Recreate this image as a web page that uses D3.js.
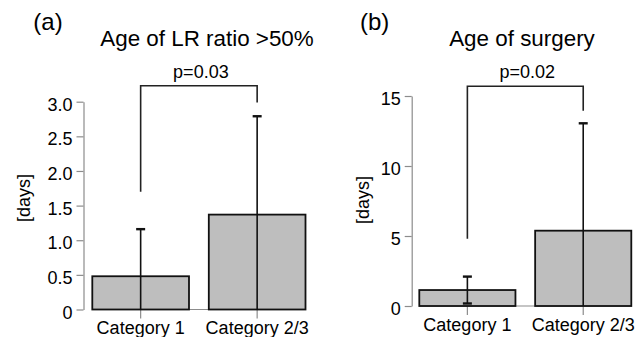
<!DOCTYPE html>
<html>
<head>
<meta charset="utf-8">
<script src="https://cdn.jsdelivr.net/npm/d3@7"></script>
<style>
  body { margin: 0; background: #fff; }
  svg text { font-family: "Liberation Sans", Arial, sans-serif; fill: #000; }
  .axis path, .axis line { stroke: #8c8c8c; stroke-width: 1.2; }
</style>
</head>
<body>
<div id="chart"></div>
<script>
var categories = ["Category 1", "Category 2/3"];

// panel (a) Age of LR ratio >50%
var lrMeans = [0.48, 1.37];
var lrSd = [0.68, 1.42];
var lrTicks = [0, 0.5, 1.0, 1.5, 2.0, 2.5, 3.0];
var lrBracket = [1.70, 2.99, 3.23]; // left leg end, right leg end, top
var lrP = "p=0.03";

// panel (b) Age of surgery
var surgMeans = [1.14, 5.38];
var surgSd = [0.96, 7.67];
var surgTicks = [0, 5, 10, 15];
var surgBracket = [4.8, 13.95, 15.7];
var surgP = "p=0.02";

var W = 638, H = 337;

var svg = d3.select("#chart").append("svg")
    .attr("width", W)
    .attr("height", H);

function mk_panel(o){
    var y = d3.scaleLinear()
        .domain([0, o.ticks[o.ticks.length - 1]])
        .range([o.y0, o.y1]);

    var x = d3.scaleBand()
        .domain(categories)
        .range([o.bx0, o.bx1])
        .paddingInner(0.17)
        .paddingOuter(0);

    var g = svg.append("g");

    // y axis
    var yAxis = d3.axisLeft(y)
        .tickValues(o.ticks)
        .tickSize(7)
        .tickSizeOuter(0)
        .tickPadding(4)
        .tickFormat(o.fmt);

    var ya = g.append("g")
        .attr("class", "axis")
        .attr("transform", "translate(" + o.ax + ",0)")
        .call(yAxis);
    ya.selectAll("text")
        .attr("dy", "0.48em")
        .style("font-size", "18px")
        .style("font-family", "'Liberation Sans', Arial, sans-serif")
        .attr("fill", "#000");

    // baseline under the bars
    g.append("line")
        .attr("x1", o.bx0).attr("x2", o.bx1)
        .attr("y1", y(0)).attr("y2", y(0))
        .attr("stroke", "#8c8c8c")
        .attr("stroke-width", 1.2);

    // x axis (ticks + labels only)
    var xAxis = d3.axisBottom(x)
        .tickSize(9)
        .tickSizeOuter(0)
        .tickPadding(3);
    var xa = g.append("g")
        .attr("class", "axis")
        .attr("transform", "translate(0," + y(0) + ")")
        .call(xAxis);
    xa.select(".domain").remove();
    xa.selectAll("text")
        .style("font-size", "18px")
        .style("font-family", "'Liberation Sans', Arial, sans-serif")
        .attr("fill", "#000");

    // bars
    g.selectAll("rect.bar")
        .data(o.means)
        .enter().append("rect")
        .attr("class", "bar")
        .attr("x", function(d, i){ return x(categories[i]); })
        .attr("width", x.bandwidth())
        .attr("y", function(d){ return y(d); })
        .attr("height", function(d){ return y(0) - y(d); })
        .attr("fill", "#bebebe")
        .attr("stroke", "#111")
        .attr("stroke-width", 1.8);

    // error bars
    var eb = g.selectAll("g.err")
        .data(o.means.map(function(m, i){ return {m: m, s: o.sd[i], c: categories[i]}; }))
        .enter().append("g")
        .attr("class", "err")
        .attr("transform", function(d){ return "translate(" + (x(d.c) + x.bandwidth() / 2) + ",0)"; });

    eb.append("line")
        .attr("y1", function(d){ return y(Math.max(0, d.m - d.s)); })
        .attr("y2", function(d){ return y(d.m + d.s); })
        .attr("stroke", "#111")
        .attr("stroke-width", 1.6);

    eb.append("line")
        .attr("x1", -4.5).attr("x2", 4.5)
        .attr("y1", function(d){ return y(d.m + d.s); })
        .attr("y2", function(d){ return y(d.m + d.s); })
        .attr("stroke", "#111")
        .attr("stroke-width", 2.4);

    eb.filter(function(d){ return d.m - d.s > 0; })
        .append("line")
        .attr("x1", -4.5).attr("x2", 4.5)
        .attr("y1", function(d){ return y(d.m - d.s); })
        .attr("y2", function(d){ return y(d.m - d.s); })
        .attr("stroke", "#111")
        .attr("stroke-width", 2.4);

    // significance bracket
    var cx0 = x(categories[0]) + x.bandwidth() / 2,
        cx1 = x(categories[1]) + x.bandwidth() / 2;
    var bracket = d3.line();
    g.append("path")
        .attr("d", bracket([
            [cx0, y(o.bracket[0])],
            [cx0, y(o.bracket[2])],
            [cx1, y(o.bracket[2])],
            [cx1, y(o.bracket[1])]
        ]))
        .attr("fill", "none")
        .attr("stroke", "#222")
        .attr("stroke-width", 1.6);

    g.append("text")
        .attr("x", (cx0 + cx1) / 2 + 2)
        .attr("y", y(o.bracket[2]) - 8)
        .attr("text-anchor", "middle")
        .style("font-size", "18px")
        .text(o.p);

    // y label
    g.append("text")
        .attr("transform", "translate(" + o.ylx + "," + o.yly + ") rotate(-90)")
        .attr("text-anchor", "middle")
        .style("font-size", "18px")
        .text("[days]");

    // title and panel letter
    g.append("text")
        .attr("x", o.tx).attr("y", 46)
        .attr("text-anchor", "middle")
        .style("font-size", "22.4px")
        .text(o.title);

    g.append("text")
        .attr("x", o.lx).attr("y", 30)
        .attr("text-anchor", "middle")
        .style("font-size", "24px")
        .text(o.letter);
}

mk_panel({
    means: lrMeans, sd: lrSd, ticks: lrTicks, bracket: lrBracket, p: lrP,
    fmt: function(d){ return d === 0 ? "0" : d.toFixed(1); },
    y0: 309.5, y1: 101.7, bx0: 92.3, bx1: 305.5, ax: 83.5,
    ylx: 30, yly: 198, tx: 207, lx: 48,
    title: "Age of LR ratio >50%", letter: "(a)"
});

mk_panel({
    means: surgMeans, sd: surgSd, ticks: surgTicks, bracket: surgBracket, p: surgP,
    fmt: d3.format("d"),
    y0: 306, y1: 96, bx0: 419.3, bx1: 631.3, ax: 411.7,
    ylx: 368.5, yly: 200, tx: 522, lx: 374.7,
    title: "Age of surgery", letter: "(b)"
});
</script>
</body>
</html>
